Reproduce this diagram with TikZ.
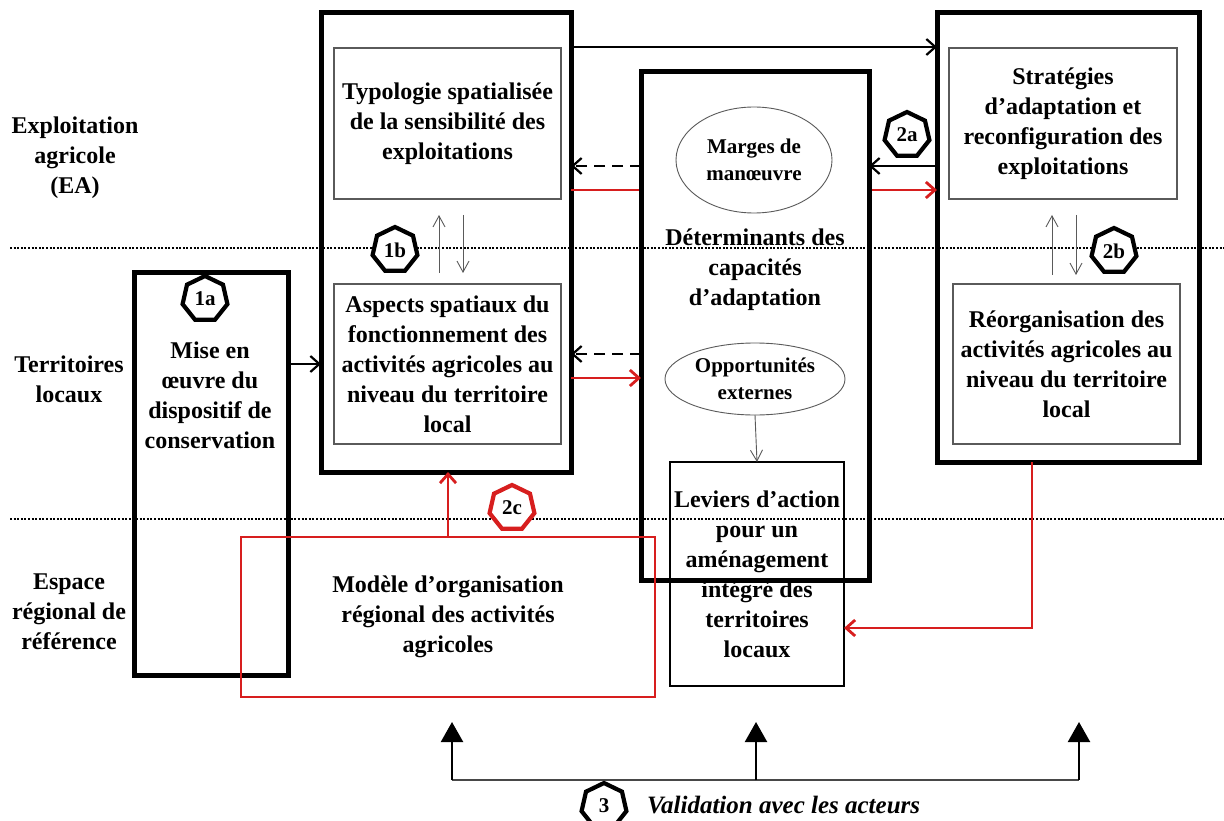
\documentclass[tikz,border=0pt]{standalone}
\usepackage{fontspec}
\setmainfont{Liberation Serif}
\usetikzlibrary{arrows.meta,shapes.geometric,calc}
\definecolor{myred}{RGB}{215,30,30}
\definecolor{boxgray}{RGB}{90,90,90}
\begin{document}
\begin{tikzpicture}[x=1pt,y=-1pt,
  lbl/.style={font=\fontsize{24}{30}\selectfont\bfseries, align=center, inner sep=0pt},
  lbls/.style={font=\fontsize{21}{27.5}\selectfont\bfseries, align=center, inner sep=0pt},
  bigbox/.style={draw=black, line width=5pt, rectangle, inner sep=0pt, outer sep=0pt},
  inbox/.style={lbl, draw=boxgray, line width=1.2pt, rectangle, outer sep=0pt},
  levbox/.style={lbl, draw=black, line width=1.1pt, rectangle, outer sep=0pt},
  modbox/.style={lbl, draw=myred, line width=1.3pt, rectangle, outer sep=0pt},
  ell/.style={draw=boxgray, line width=0.9pt, ellipse, inner sep=0pt, outer sep=0pt},
  hept/.style={regular polygon, regular polygon sides=7, minimum size=46pt, inner sep=0pt,
    draw=black, line width=4.2pt, fill=white, font=\fontsize{21}{22}\selectfont\bfseries},
  blk/.style={draw=black, line width=2.2pt, -{Straight Barb[length=9pt,width=16pt]}},
  dasharrow/.style={draw=black, line width=2.2pt, dash pattern=on 11pt off 7pt, -{Straight Barb[length=9pt,width=16pt]}},
  redarrow/.style={draw=myred, line width=2.8pt, -{Straight Barb[length=9pt,width=16pt]}},
  thinarrow/.style={draw=boxgray, line width=0.9pt, -{Straight Barb[length=11pt,width=12pt]}},
  valarrow/.style={draw=black, line width=2.2pt, -{Triangle[length=20pt,width=22pt]}},
  busline/.style={draw=boxgray!80!black, line width=1.6pt},
  dotline/.style={draw=black, line width=2pt, dash pattern=on 2pt off 1.6pt}
]
\useasboundingbox (0,0) rectangle (1224,821);

% helper coordinates for rows
\coordinate (rowT) at (0,47);
\coordinate (rowA) at (0,166);
\coordinate (rowB) at (0,190);
\coordinate (rowC) at (0,354);
\coordinate (rowD) at (0,378);

% left labels
\node[lbl] (labEA) at (75,158) {Exploitation\\agricole\\(EA)};
\node[lbl] (labTL) at (69,379) {Territoires\\locaux};
\node[lbl] (labER) at (69,612) {Espace\\régional de\\référence};

% thick frames
\node[bigbox, minimum width=154pt, minimum height=402pt] (b1a) at (211,474) {};
\node[lbl] (t1a) at (210,395) {Mise en\\œuvre du\\dispositif de\\conservation};
\node[bigbox, minimum width=250pt, minimum height=459pt] (b1b) at (446,242.5) {};
\node[bigbox, minimum width=262pt, minimum height=449pt] (b2) at (1068,237.5) {};

% red line passing behind the central frame
\draw[redarrow] (b1b.east |- rowB) -- (b2.west |- rowB);
\node[bigbox, fill=white, minimum width=228pt, minimum height=508pt] (bc) at (755,326) {};

% dotted separators
\coordinate (d1l) at (10,248);
\coordinate (d1r) at (1224,248);
\coordinate (d2l) at (10,519);
\coordinate (d2r) at (1224,519);
\draw[dotline] (d1l) -- (d1r);
\draw[dotline] (d2l) -- (d2r);

% inner boxes
\node[inbox, minimum width=227pt, minimum height=151pt] (typ) at (447.5,123.5) {Typologie spatialisée\\de la sensibilité des\\exploitations};
\node[inbox, minimum width=227pt, minimum height=160pt] (asp) at (447.5,364) {Aspects spatiaux du\\fonctionnement des\\activités agricoles au\\niveau du territoire\\local};
\node[inbox, minimum width=228pt, minimum height=151pt] (str) at (1063,123.5) {Stratégies\\d’adaptation et\\reconfiguration des\\exploitations};
\node[inbox, minimum width=227pt, minimum height=160pt] (reo) at (1066.5,364) {Réorganisation des\\activités agricoles au\\niveau du territoire\\local};

% central frame content
\node[ell, minimum width=156pt, minimum height=106pt] (mar) at (754,160) {};
\node[lbls] (marT) at (mar) {Marges de\\manœuvre};
\node[lbl] (det) at (755,270) {Déterminants des\\capacités\\d’adaptation};
\node[ell, minimum width=180pt, minimum height=72pt] (opp) at (755,379) {};
\node[lbls] (oppT) at (opp) {Opportunités\\externes};
\node[levbox, minimum width=174pt, minimum height=224pt] (lev) at (757,574) {Leviers d’action\\pour un\\aménagement\\intégré des\\territoires\\locaux};

% regional model
\node[modbox, minimum width=414pt, minimum height=160pt] (mod) at (448,617) {Modèle d’organisation\\régional des activités\\agricoles};

% connectors
\draw[blk] (b1a.east |- asp.west) -- (b1b.west |- asp.west);
\draw[blk] (b1b.east |- rowT) -- (b2.west |- rowT);
\draw[dasharrow] (bc.west |- rowA) -- (b1b.east |- rowA);
\draw[blk] (b2.west |- rowA) -- (bc.east |- rowA);
\draw[dasharrow] (bc.west |- rowC) -- (b1b.east |- rowC);
\draw[redarrow] (b1b.east |- rowD) -- (bc.west |- rowD);
\draw[thinarrow] (opp.south) -- (lev.north);

\draw[thinarrow, shorten <=11pt, shorten >=16pt] ([xshift=-8.5pt]asp.north) -- ([xshift=-8.5pt]asp.north |- typ.south);
\draw[thinarrow, shorten <=16pt, shorten >=11pt] ([xshift=15.5pt]asp.north |- typ.south) -- ([xshift=15.5pt]asp.north);
\draw[thinarrow, shorten <=9pt, shorten >=16pt] ([xshift=-14.5pt]reo.north) -- ([xshift=-14.5pt]reo.north |- str.south);
\draw[thinarrow, shorten <=16pt, shorten >=9pt] ([xshift=9.5pt]reo.north |- str.south) -- ([xshift=9.5pt]reo.north);

\draw[redarrow] ([xshift=-36pt]b2.south) |- ([yshift=-54pt]lev.east);
\draw[redarrow] (mod.north) -- (mod.north |- b1b.south);

% validation
\coordinate (vL) at (452,780);
\coordinate (vM) at (756,780);
\coordinate (vR) at (1079,780);
\coordinate (tL) at (452,722);
\coordinate (tM) at (756,722);
\coordinate (tR) at (1079,722);
\draw[busline] (vL) -- (vR);
\draw[valarrow] (vL) -- (tL);
\draw[valarrow] (vM) -- (tM);
\draw[valarrow] (vR) -- (tR);
\node[font=\fontsize{25}{28}\selectfont\bfseries\itshape, anchor=west, inner sep=0pt] (val) at (647,805) {Validation avec les acteurs};

% step markers
\node[hept] (h1a) at (205,299) {1a};
\node[hept] (h1b) at (395,250) {1b};
\node[hept] (h2a) at (907,135) {2a};
\node[hept] (h2b) at (1114,251) {2b};
\node[hept, draw=myred] (h2c) at (512,508) {2c};
\node[hept] (h3) at (604,806) {3};
\end{tikzpicture}
\end{document}
